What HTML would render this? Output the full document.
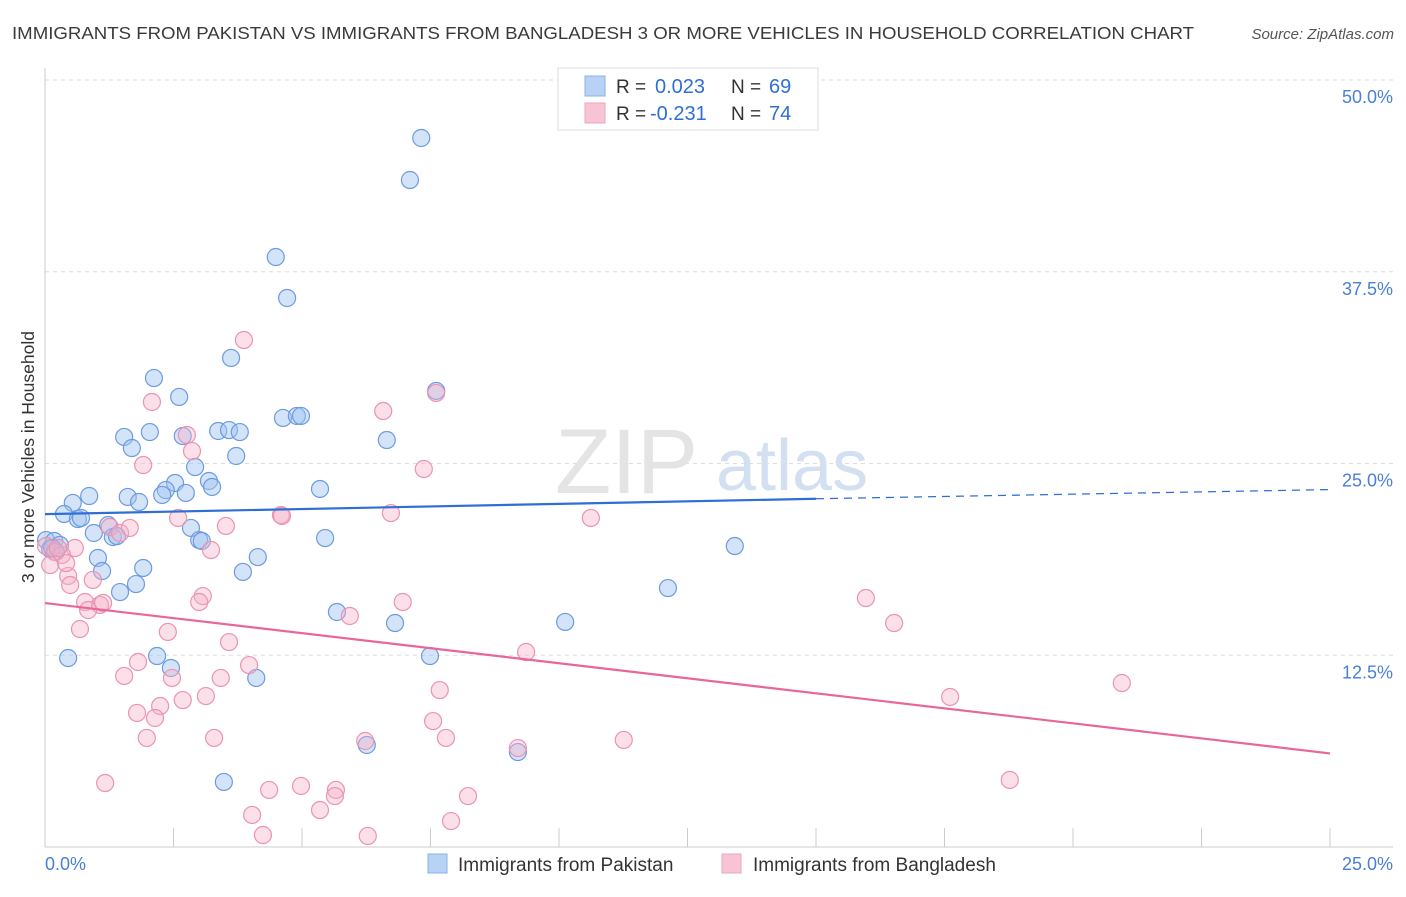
<!DOCTYPE html>
<html><head><meta charset="utf-8"><style>
body{margin:0;background:#fff;font-family:"Liberation Sans",sans-serif}
svg text{font-family:"Liberation Sans",sans-serif}
</style></head><body>
<svg id="chart" width="1406" height="892" xmlns="http://www.w3.org/2000/svg">
<text x="12" y="39" font-size="17.5" fill="#3a3a3a" textLength="1182" lengthAdjust="spacingAndGlyphs">IMMIGRANTS FROM PAKISTAN VS IMMIGRANTS FROM BANGLADESH 3 OR MORE VEHICLES IN HOUSEHOLD CORRELATION CHART</text>
<text x="1394" y="39" font-size="15" fill="#555" font-style="italic" text-anchor="end">Source: ZipAtlas.com</text>
<g id="grid"></g>
<text x="555" y="493" font-size="92" fill="#e4e4e4" font-family="Liberation Serif">ZIP</text>
<text x="716" y="490" font-size="72" fill="#d3e0f2">atlas</text>
<line x1="45" y1="68" x2="45" y2="847" stroke="#ccc"/>
<line x1="45" y1="847" x2="1393" y2="847" stroke="#ccc"/>
<text transform="translate(34,457) rotate(-90)" font-size="17.5" fill="#333" text-anchor="middle">3 or more Vehicles in Household</text>
<text x="45" y="870" font-size="18" fill="#4a7fd6">0.0%</text>
<text x="1393" y="870" font-size="18" fill="#4a7fd6" text-anchor="end">25.0%</text>
<g id="marks"></g>
<g>
<rect x="558" y="68" width="260" height="62" fill="#fff" stroke="#ddd"/>
<rect x="585" y="76" width="20" height="20" fill="#b8d2f5" stroke="#8ab0e8"/>
<rect x="585" y="103" width="20" height="20" fill="#f8c3d4" stroke="#eda4bd"/>
<text x="616" y="93" font-size="19" fill="#333">R = </text><text x="655" y="93" font-size="20" fill="#2e6fd6">0.023</text>
<text x="731" y="93" font-size="19" fill="#333">N = </text><text x="769" y="93" font-size="20" fill="#2e6fd6">69</text>
<text x="616" y="120" font-size="19" fill="#333">R = </text><text x="650" y="120" font-size="20" fill="#2e6fd6">-0.231</text>
<text x="731" y="120" font-size="19" fill="#333">N = </text><text x="769" y="120" font-size="20" fill="#2e6fd6">74</text>
</g>
<g>
<rect x="428" y="854" width="19" height="19" fill="#b8d2f5" stroke="#8ab0e8"/>
<text x="458" y="871" font-size="19" fill="#333">Immigrants from Pakistan</text>
<rect x="722" y="854" width="19" height="19" fill="#f8c3d4" stroke="#eda4bd"/>
<text x="753" y="871" font-size="19" fill="#333">Immigrants from Bangladesh</text>
</g>
</svg>
<script>
const yTicks=[12.5,25,37.5,50];
const xTickVals=[0,2.5,5,7.5,10,12.5,15,17.5,20,22.5,25];
const bluePx=[[421,138],[410,180],[276,257],[287,298],[231,358],[154,378],[179,397],[436,391],[283,418],[297,416],[301,416],[218,431],[229,430],[240,432],[150,432],[124,437],[183,436],[387,440],[132,448],[236,456],[195,467],[175,483],[209,481],[212,487],[166,490],[162,495],[186,493],[320,489],[128,497],[139,502],[89,496],[73,503],[64,514],[78,519],[81,518],[108,525],[113,537],[191,528],[199,540],[202,541],[94,533],[117,536],[325,538],[46,540],[54,541],[60,545],[50,549],[56,552],[98,558],[258,557],[735,546],[143,568],[102,571],[243,572],[136,584],[120,592],[668,588],[337,612],[395,623],[565,622],[68,658],[157,656],[171,668],[430,656],[256,678],[367,745],[518,752],[224,782],[52,548]];
const pinkPx=[[244,340],[152,402],[436,393],[383,411],[187,435],[192,451],[143,465],[424,469],[178,518],[281,515],[391,513],[591,518],[226,526],[110,527],[120,533],[130,528],[75,548],[46,546],[55,552],[62,555],[50,565],[68,576],[93,580],[70,585],[211,550],[85,602],[100,605],[103,603],[88,610],[203,596],[199,602],[403,602],[350,616],[866,598],[894,623],[80,629],[168,632],[229,642],[138,662],[249,665],[124,676],[172,678],[221,678],[440,690],[206,696],[183,700],[160,706],[137,713],[155,718],[950,697],[1122,683],[526,652],[433,721],[147,738],[214,738],[365,741],[446,738],[518,748],[624,740],[105,783],[301,786],[269,790],[336,790],[335,796],[468,796],[1010,780],[320,810],[252,815],[451,821],[263,835],[368,836],[58,548],[66,563],[282,516]];
// data values (percent)
const blueX=bluePx.map(p=>+((p[0]-45)/1285*25).toFixed(2));
const blueY=bluePx.map(p=>+((847-p[1])/767*50).toFixed(2));
const pinkX=pinkPx.map(p=>+((p[0]-45)/1285*25).toFixed(2));
const pinkY=pinkPx.map(p=>+((847-p[1])/767*50).toFixed(2));
const blueTrend=[21.7,22.7,23.3]; // at x=0, 15, 25
const pinkTrend=[15.9,6.1];       // at x=0, 25
const X=v=>45+v/25*1285, Y=v=>847-v/50*767;
const NS="http://www.w3.org/2000/svg";
const grid=document.getElementById('grid'), marks=document.getElementById('marks');
function mk(tag,attrs,parent){const e=document.createElementNS(NS,tag);for(const k in attrs)e.setAttribute(k,attrs[k]);parent.appendChild(e);return e;}
yTicks.forEach(t=>{
  const l=mk('line',{x1:45,x2:1393,y1:Y(t),y2:Y(t),stroke:'#ddd','stroke-dasharray':'4,4'},grid);
  
  
  const tx=mk('text',{x:1393,y:Y(t)+23,'font-size':18,fill:'#4a7fd6','text-anchor':'end'},grid);
  tx.textContent=t.toFixed(1)+'%';
  
  
});
xTickVals.forEach(t=>{
  const l=mk('line',{x1:X(t),x2:X(t),y1:828,y2:847,stroke:'#ccc'},grid);
  
  
});
blueX.forEach((x,i)=>{
  const c=mk('circle',{cx:X(x),cy:Y(blueY[i]),r:8.5,fill:'rgba(160,196,240,0.45)',stroke:'#6c9be0','stroke-width':1.2},marks);
  
  
});
pinkX.forEach((x,i)=>{
  const c=mk('circle',{cx:X(x),cy:Y(pinkY[i]),r:8.5,fill:'rgba(246,178,200,0.4)',stroke:'#eb93b2','stroke-width':1.2},marks);
  
  
});
let l1=mk('line',{x1:X(0),y1:Y(blueTrend[0]),x2:X(15),y2:Y(blueTrend[1]),stroke:'#2e6fd6','stroke-width':2.2},marks);


let l2=mk('line',{x1:X(15),y1:Y(blueTrend[1]),x2:X(25),y2:Y(blueTrend[2]),stroke:'#2e6fd6','stroke-width':1.3,'stroke-dasharray':'8,6'},marks);


let l3=mk('line',{x1:X(0),y1:Y(pinkTrend[0]),x2:X(25),y2:Y(pinkTrend[1]),stroke:'#e8679a','stroke-width':2.2},marks);


</script>
</body></html>
